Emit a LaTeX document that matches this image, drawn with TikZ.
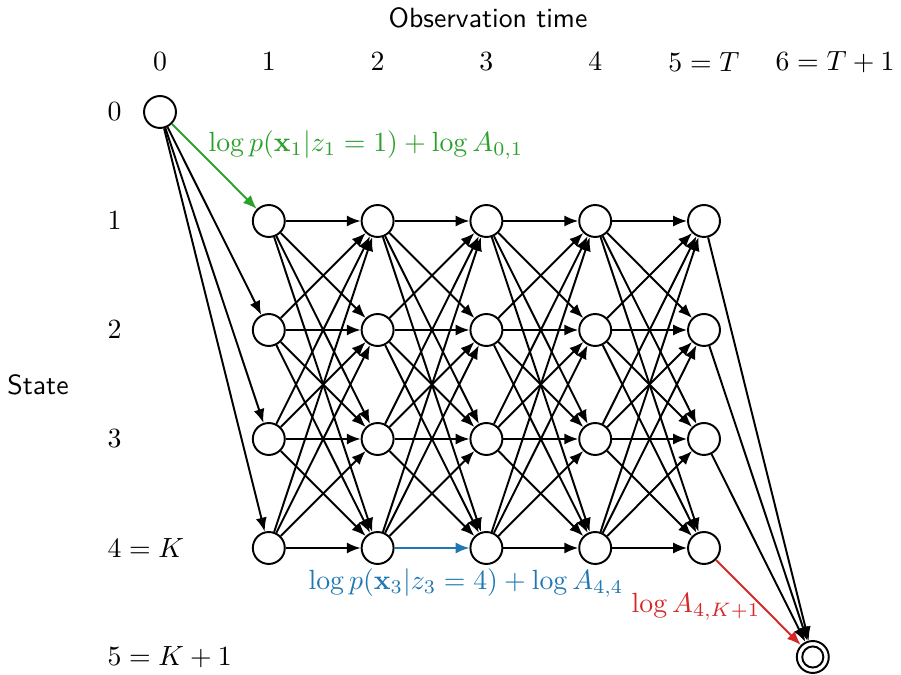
\documentclass[tikz,border=0pt]{standalone}
\usetikzlibrary{arrows.meta}
\definecolor{cgreen}{HTML}{2CA02C}
\definecolor{cblue}{HTML}{1F77B4}
\definecolor{cred}{HTML}{D62728}
\begin{document}
\begin{tikzpicture}[x=0.36pt,y=-0.36pt,
  st/.style={circle,draw,line width=0.7pt,minimum size=11.5pt,inner sep=0pt,fill=white},
  tr/.style={line width=0.7pt,-{Latex[length=5pt,width=4pt]}},
  rowlab/.style={anchor=west,inner sep=0pt},
  axlab/.style={font=\sffamily}]
\useasboundingbox (0,0) rectangle (901,675);
% axis titles
\node[axlab] (obs) at (488,18) {Observation time};
\node[axlab] (state) at (38,385) {State};
% column labels
\node (c0) at (160,62) {$0$};
\node (c1) at (268.8,62) {$1$};
\node (c2) at (377.6,62) {$2$};
\node (c3) at (486.4,62) {$3$};
\node (c4) at (595.2,62) {$4$};
\node (c5) at (704,62) {$5=T$};
\node (c6) at (835,62) {$6=T+1$};
% row labels
\node[rowlab] (r0) at (107,112) {$0$};
\node[rowlab] (r1) at (107,221) {$1$};
\node[rowlab] (r2) at (107,330) {$2$};
\node[rowlab] (r3) at (107,439) {$3$};
\node[rowlab] (r4) at (107,548) {$4=K$};
\node[rowlab] (r5) at (107,657) {$5=K+1$};
% state nodes
\node[st] (s00) at (160,112) {};
\foreach \t in {1,...,5}
  \foreach \k in {1,...,4}
    \node[st] (s\t\k) at ({160+108.8*\t},{112+109*\k}) {};
\node[st] (f) at (812.8,657) {};
\draw[line width=0.7pt] (f.center) circle (3.8pt);
% edges from start
\foreach \k in {2,3,4} \draw[tr] (s00) -- (s1\k);
\draw[tr,cgreen] (s00) -- (s11);
% transitions
\foreach \t/\u in {1/2,2/3,3/4,4/5}
  \foreach \i in {1,...,4}
    \foreach \j in {1,...,4}
      {\ifnum\t\i\j=244 \else \draw[tr] (s\t\i) -- (s\u\j);\fi}
\draw[tr,cblue] (s24) -- (s34);
% edges to end
\foreach \k in {1,2,3} \draw[tr] (s5\k) -- (f);
\draw[tr,cred] (s54) -- (f);
% labels
\node[text=cgreen] (lg) at (366,145) {$\log p(\mathbf{x}_1|z_1=1)+\log A_{0,1}$};
\node[text=cblue] (lb) at (466,583) {$\log p(\mathbf{x}_3|z_3=4)+\log A_{4,4}$};
\node[text=cred] (lr) at (696,607) {$\log A_{4,K+1}$};
\end{tikzpicture}
\end{document}
